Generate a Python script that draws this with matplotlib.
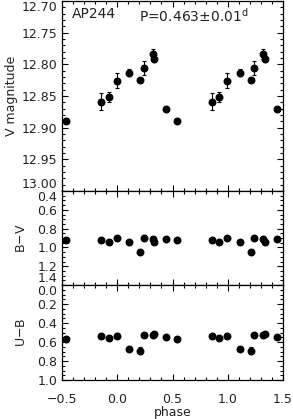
import matplotlib
matplotlib.use('Agg')
import matplotlib.pyplot as plt
import numpy as np
from matplotlib.ticker import MultipleLocator

# base phases (0..1) of the observations
phase = [0.538, 0.856, 0.925, 0.997, 0.109, 0.209, 0.239, 0.321, 0.335, 0.444]
v_mag = [12.889, 12.859, 12.851, 12.826, 12.813, 12.825, 12.806, 12.784, 12.792, 12.871]
v_err = [0.004, 0.013, 0.008, 0.012, 0.005, 0.003, 0.011, 0.008, 0.005, 0.004]
b_v = [0.921, 0.921, 0.939, 0.903, 0.946, 1.049, 0.903, 0.910, 0.939, 0.910]
b_v_err = [0.005, 0.005, 0.005, 0.005, 0.005, 0.008, 0.005, 0.005, 0.005, 0.005]
u_b = [0.565, 0.537, 0.561, 0.533, 0.677, 0.691, 0.526, 0.526, 0.519, 0.547]
u_b_err = [0.02, 0.01, 0.01, 0.03, 0.01, 0.04, 0.01, 0.02, 0.02, 0.01]

v_ticks = [12.70, 12.75, 12.80, 12.85, 12.90, 12.95, 13.00]
bv_ticks = [0.4, 0.6, 0.8, 1.0, 1.2, 1.4]
ub_ticks = [0.0, 0.2, 0.4, 0.6, 0.8, 1.0]
x_ticks = [-0.5, 0.0, 0.5, 1.0, 1.5]

star = 'AP244'
period_text = 'P=0.463±0.01$^{\\rm d}$'

plt.rcParams['font.family'] = ['DejaVu Sans']
plt.rcParams['font.size'] = 9
plt.rcParams['mathtext.fontset'] = 'dejavusans'
txt = '#222222'


def folded(vals):
    ph = np.concatenate([np.array(phase) - 1, phase, np.array(phase) + 1])
    return ph, np.tile(vals, 3)


fig = plt.figure(figsize=(2.93, 4.19), dpi=100)
gs = fig.add_gridspec(3, 1, height_ratios=[190, 94, 95], hspace=0,
                      left=62 / 293, right=283 / 293,
                      top=1 - 1 / 419, bottom=1 - 380 / 419)
axes = [fig.add_subplot(gs[i]) for i in range(3)]

panels = [
    (v_mag, v_err, 'V magnitude', v_ticks, 0.01, '%.2f', -0.2, ('top', 'bottom')),
    (b_v, b_v_err, 'B$-$V', bv_ticks, 0.05, '%.1f', -0.155, ('top', 'bottom')),
    (u_b, u_b_err, 'U$-$B', ub_ticks, 0.05, '%.1f', -0.155, ('top', None)),
]

for ax, (vals, errs, label, ticks, minor, fmt, lx, edge_va) in zip(axes, panels):
    x, y = folded(vals)
    _, e = folded(errs)
    ax.errorbar(x, y, yerr=e, fmt='o', color='black', ms=4.7,
                elinewidth=0.8, capsize=1.5, capthick=0.8)
    ax.set_xlim(-0.5, 1.5)
    ax.set_ylim(ticks[-1], ticks[0])
    ax.set_xticks(x_ticks)
    ax.xaxis.set_minor_locator(MultipleLocator(0.1))
    ax.set_yticks(ticks)
    ax.set_yticklabels([fmt % t for t in ticks])
    ax.yaxis.set_minor_locator(MultipleLocator(minor))
    ax.tick_params(which='both', direction='in', top=True, right=True,
                   width=0.8, colors='black', labelcolor=txt)
    ax.tick_params(which='major', length=4)
    ax.tick_params(which='minor', length=2)
    ax.tick_params(axis='x', pad=9.5)
    labels = ax.get_yticklabels()
    if edge_va[0]:
        labels[0].set_va(edge_va[0])
    if edge_va[1]:
        labels[-1].set_va(edge_va[1])
    for sp in ax.spines.values():
        sp.set_linewidth(0.9)
    ax.set_ylabel(label, color=txt)
    ax.yaxis.set_label_coords(lx, 0.5)
    if ax is not axes[-1]:
        ax.tick_params(labelbottom=False)

axes[-1].set_xlabel('phase', color=txt, labelpad=0)
axes[0].text(0.045, 0.97, star, transform=axes[0].transAxes, fontsize=10,
             ha='left', va='top', color=txt)
axes[0].text(0.348, 0.97, period_text, transform=axes[0].transAxes, fontsize=10,
             ha='left', va='top', color=txt)

fig.savefig('out.png', dpi=100)
